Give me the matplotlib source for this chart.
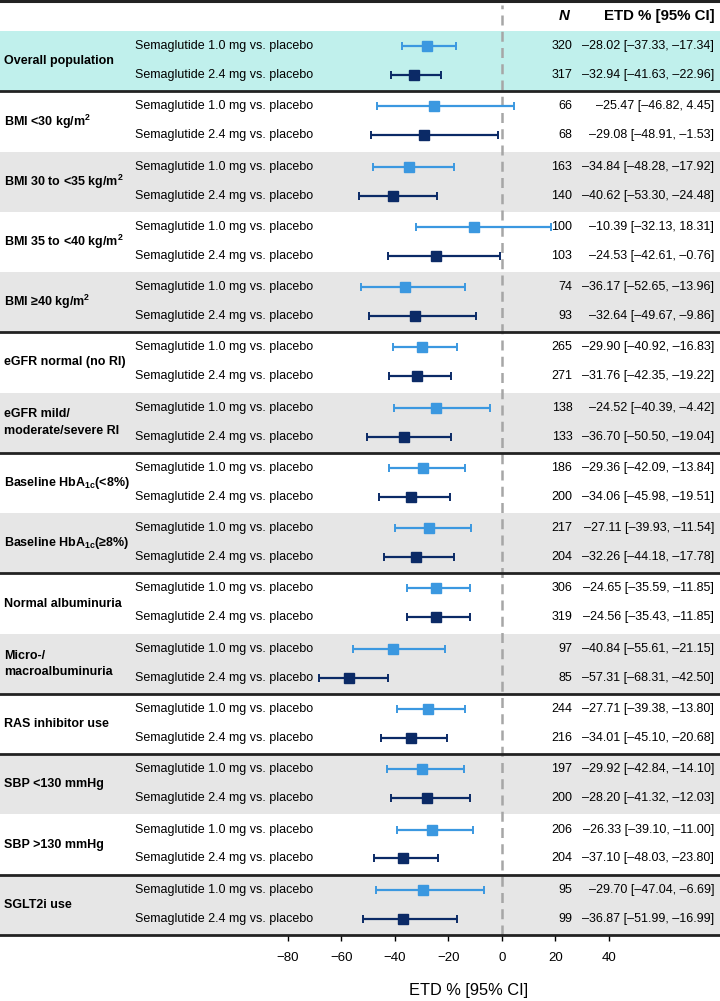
import numpy as np
import matplotlib
matplotlib.use("Agg")
import matplotlib.pyplot as plt

plt.rcParams["font.family"] = ["Liberation Sans", "DejaVu Sans"]
plt.rcParams["mathtext.fontset"] = "custom"
plt.rcParams["mathtext.rm"] = "Liberation Sans"
plt.rcParams["mathtext.bf"] = "Liberation Sans:bold"

LIGHT = "#3b98e0"
DARK = "#0b2a66"
CYAN = "#c0f0ec"
GREY = "#e6e6e6"

groups = [
    "Overall population",
    r"BMI <30 kg/m$^\mathbf{2}$",
    r"BMI 30 to <35 kg/m$^\mathbf{2}$",
    r"BMI 35 to <40 kg/m$^\mathbf{2}$",
    r"BMI ≥40 kg/m$^\mathbf{2}$",
    "eGFR normal (no RI)",
    "eGFR mild/\nmoderate/severe RI",
    r"Baseline HbA$_\mathbf{1c}$(<8%)",
    r"Baseline HbA$_\mathbf{1c}$(≥8%)",
    "Normal albuminuria",
    "Micro-/\nmacroalbuminuria",
    "RAS inhibitor use",
    "SBP <130 mmHg",
    "SBP >130 mmHg",
    "SGLT2i use",
]
band = ["cyan", "white", "grey", "white", "grey", "white", "grey", "white",
        "grey", "white", "grey", "white", "grey", "white", "grey"]
sep_after = [0, 4, 6, 8, 10, 11, 13, 14]

treatments = ["Semaglutide 1.0 mg vs. placebo", "Semaglutide 2.4 mg vs. placebo"]

# semaglutide 1.0 mg vs placebo
n_10 = [320, 66, 163, 100, 74, 265, 138, 186, 217, 306, 97, 244, 197, 206, 95]
etd_10 = [-28.02, -25.47, -34.84, -10.39, -36.17, -29.90, -24.52, -29.36,
          -27.11, -24.65, -40.84, -27.71, -29.92, -26.33, -29.70]
lo_10 = [-37.33, -46.82, -48.28, -32.13, -52.65, -40.92, -40.39, -42.09,
         -39.93, -35.59, -55.61, -39.38, -42.84, -39.10, -47.04]
hi_10 = [-17.34, 4.45, -17.92, 18.31, -13.96, -16.83, -4.42, -13.84,
         -11.54, -11.85, -21.15, -13.80, -14.10, -11.00, -6.69]

# semaglutide 2.4 mg vs placebo
n_24 = [317, 68, 140, 103, 93, 271, 133, 200, 204, 319, 85, 216, 200, 204, 99]
etd_24 = [-32.94, -29.08, -40.62, -24.53, -32.64, -31.76, -36.70, -34.06,
          -32.26, -24.56, -57.31, -34.01, -28.20, -37.10, -36.87]
lo_24 = [-41.63, -48.91, -53.30, -42.61, -49.67, -42.35, -50.50, -45.98,
         -44.18, -35.43, -68.31, -45.10, -41.32, -48.03, -51.99]
hi_24 = [-22.96, -1.53, -24.48, -0.76, -9.86, -19.22, -19.04, -19.51,
         -17.78, -11.85, -42.50, -20.68, -12.03, -23.80, -16.99]

xticks = [-80, -60, -40, -20, 0, 20, 40]

FS_LABEL = 9.0
FS_TREAT = 9.0
FS_NUM = 9.0

X_GROUP, X_TREAT, X_N, X_ETD = 0.006, 0.1875, 0.795, 0.992


def fmt(v):
    return f"{v:.2f}".replace("-", "\u2013")


def etd_text(e, lo, hi):
    return f"{fmt(e)} [{fmt(lo)}, {fmt(hi)}]"


fig = plt.figure(figsize=(7.2, 10.01), dpi=100)
ax = fig.add_axes([0, 66 / 1001, 1, 904 / 1001])
ng = len(groups)
ax.set_xlim(-187.66, 81.5)
ax.set_ylim(ng, 0)

colors = {"cyan": CYAN, "grey": GREY, "white": "white"}
for g in range(ng):
    ax.axhspan(g, g + 1, color=colors[band[g]], lw=0, zorder=0)

row_off = [0.25, 0.73]
y10 = np.arange(ng) + row_off[0]
y24 = np.arange(ng) + row_off[1]

ax.plot([0, 0], [ng, -0.43], color="#a6a6a6", lw=1.8, ls=(0, (4, 2.5)),
        zorder=1, clip_on=False)

e10 = np.array(etd_10)
e24 = np.array(etd_24)
ax.errorbar(e10, y10, xerr=[e10 - np.array(lo_10), np.array(hi_10) - e10],
            fmt="s", color=LIGHT, ms=7.2, capsize=3, elinewidth=1.6,
            capthick=1.4, zorder=3)
ax.errorbar(e24, y24, xerr=[e24 - np.array(lo_24), np.array(hi_24) - e24],
            fmt="s", color=DARK, ms=7.6, capsize=3, elinewidth=1.6,
            capthick=1.4, zorder=3)

tr = ax.get_yaxis_transform()
for g in range(ng):
    ax.text(X_GROUP, g + 0.5, groups[g], transform=tr, fontsize=FS_LABEL,
            fontweight="bold", ha="left", va="center", linespacing=1.5)
    for r, y in enumerate([y10[g], y24[g]]):
        ax.text(X_TREAT, y, treatments[r], transform=tr, fontsize=FS_TREAT,
                ha="left", va="center")
    ax.text(X_N, y10[g], str(n_10[g]), transform=tr, fontsize=FS_NUM,
            ha="right", va="center")
    ax.text(X_N, y24[g], str(n_24[g]), transform=tr, fontsize=FS_NUM,
            ha="right", va="center")
    ax.text(X_ETD, y10[g], etd_text(etd_10[g], lo_10[g], hi_10[g]),
            transform=tr, fontsize=FS_NUM, ha="right", va="center")
    ax.text(X_ETD, y24[g], etd_text(etd_24[g], lo_24[g], hi_24[g]),
            transform=tr, fontsize=FS_NUM, ha="right", va="center")

# header
ax.text(0.783, -0.25, "N", transform=tr, fontsize=10.8, fontweight="bold",
        fontstyle="italic", ha="center", va="center")
ax.text(X_ETD, -0.25, "ETD % [95% CI]", transform=tr, fontsize=10.8,
        fontweight="bold", ha="right", va="center")
ax.axhline(-0.49, color="#222222", lw=2.2, clip_on=False)

for g in sep_after:
    ax.axhline(g + 1, color="#222222", lw=2.0, zorder=2, clip_on=False)

for s in ax.spines.values():
    s.set_visible(False)
ax.set_yticks([])
ax.set_xticks(xticks)
ax.tick_params(axis="x", direction="out", length=4, width=1, pad=8,
               labelsize=9.5)
ax.set_xlabel("ETD % [95% CI]", fontsize=11.8)
ax.xaxis.set_label_coords(469 / 720, -0.053)

fig.savefig("out.png", dpi=100)
